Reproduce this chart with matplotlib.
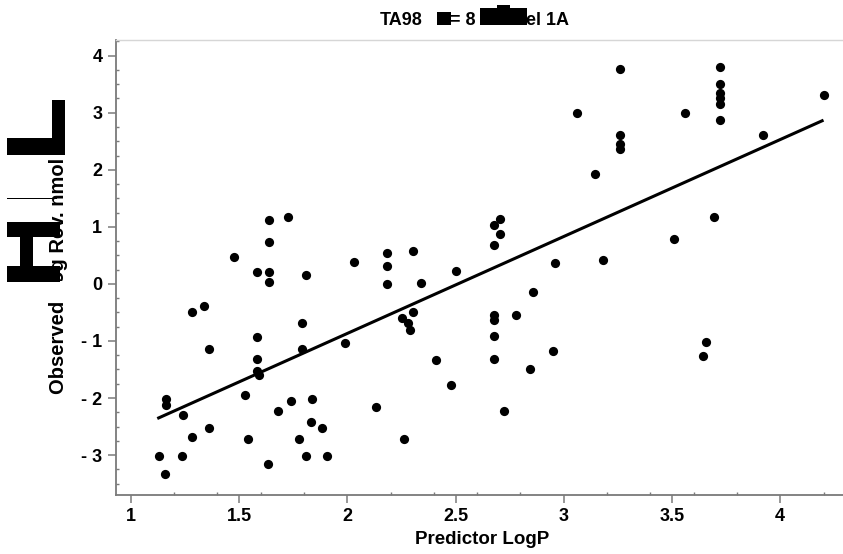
import matplotlib
matplotlib.use("Agg")
import matplotlib.pyplot as plt
from matplotlib.patches import Rectangle
from matplotlib.ticker import MultipleLocator, FuncFormatter

# ---------------- data ----------------
logp = [1.639, 1.476, 1.584, 1.639, 1.639, 1.811, 1.283, 1.340, 1.362, 1.584,
        1.789, 1.789, 1.989, 1.584, 1.584, 1.590, 1.163, 1.163, 1.242, 1.525,
        1.682, 1.739, 1.839, 1.831, 1.882, 1.283, 1.362, 1.542, 1.777, 1.128,
        1.234, 1.811, 1.904, 1.157, 1.635, 1.639, 1.727,
        2.704, 2.679, 2.704, 2.679, 2.032, 2.185, 2.185, 2.303, 2.185, 2.339,
        2.502, 2.960, 3.180, 2.858, 2.303, 2.253, 2.282, 2.290, 2.679, 2.679,
        2.780, 2.679, 2.679, 2.952, 2.410, 2.845, 2.481, 2.133, 2.723, 2.261,
        3.259, 3.059, 3.558, 3.723, 3.723, 3.723, 3.723, 3.723, 3.723, 4.200,
        3.259, 3.259, 3.259, 3.919, 3.145, 3.694, 3.507, 3.656, 3.645]
observed = [0.74, 0.48, 0.20, 0.20, 0.035, 0.15, -0.50, -0.39, -1.14, -0.93,
            -0.69, -1.14, -1.04, -1.31, -1.52, -1.60, -2.01, -2.12, -2.30, -1.95,
            -2.23, -2.06, -2.01, -2.42, -2.53, -2.69, -2.53, -2.71, -2.71, -3.02,
            -3.02, -3.02, -3.02, -3.33, -3.15, 1.12, 1.18,
            1.13, 1.04, 0.88, 0.69, 0.39, 0.55, 0.31, 0.58, -0.01, 0.02,
            0.23, 0.37, 0.42, -0.15, -0.50, -0.60, -0.69, -0.80, -0.55, -0.63,
            -0.55, -0.92, -1.31, -1.18, -1.34, -1.50, -1.77, -2.15, -2.23, -2.71,
            3.77, 2.99, 2.99, 3.80, 3.50, 3.34, 3.25, 3.15, 2.88, 3.31,
            2.61, 2.46, 2.36, 2.61, 1.93, 1.18, 0.79, -1.02, -1.26]
fit_x = [1.122, 4.20]
fit_y = [-2.36, 2.87]

x_ticks = [1, 1.5, 2, 2.5, 3, 3.5, 4]
y_ticks = [-3, -2, -1, 0, 1, 2, 3, 4]

title_parts = ["TA98", "= 8", "el 1A"]
x_label = "Predictor LogP"
y_label = "Observed Log Rev. nmol"

# ---------------- figure ----------------
W, H = 843, 554
fig = plt.figure(figsize=(W / 100, H / 100), dpi=100)
FONT = "Liberation Sans"


def fx(px):
    return px / W


def fy(py):
    return 1 - py / H


ax_l, ax_r, ax_t, ax_b = 115.5, 843, 40, 495
ax = fig.add_axes([fx(ax_l), fy(ax_b), fx(ax_r - ax_l), (ax_b - ax_t) / H])

ax.scatter(logp, observed, s=44, color="black", zorder=3, linewidths=0)
ax.plot(fit_x, fit_y, color="black", lw=2.2, zorder=2, solid_capstyle="butt")

ax.set_xlim(0.929, 4.29)
ax.set_ylim(-3.70, 4.275)

ax.xaxis.set_major_locator(plt.FixedLocator(x_ticks))
ax.yaxis.set_major_locator(plt.FixedLocator(y_ticks))
ax.xaxis.set_minor_locator(MultipleLocator(0.2))
ax.yaxis.set_minor_locator(MultipleLocator(0.25))


def xfmt(v, pos):
    return f"{v:g}"


def yfmt(v, pos):
    v = int(round(v))
    return f"- {abs(v)}" if v < 0 else f"{v}"


ax.xaxis.set_major_formatter(FuncFormatter(xfmt))
ax.yaxis.set_major_formatter(FuncFormatter(yfmt))

spine_c = "#7a7a7a"
for s in ["left", "bottom"]:
    ax.spines[s].set_color(spine_c)
    ax.spines[s].set_linewidth(1.3)
ax.spines["top"].set_color("#d6d6d6")
ax.spines["top"].set_linewidth(1.0)
ax.spines["right"].set_visible(False)

ax.tick_params(which="major", direction="out", length=6, width=1.1, color=spine_c,
               pad=3.5, labelsize=13)
ax.tick_params(which="minor", direction="in", length=2, width=1.0, color=spine_c)
ax.tick_params(top=False, right=False, which="both")
for lab in ax.get_xticklabels() + ax.get_yticklabels():
    lab.set_fontfamily(FONT)
    lab.set_fontweight("bold")

# axis labels
fig.text(fx(482), fy(540), x_label, ha="center", va="center", fontsize=13.5,
         fontweight="bold", family=FONT, zorder=3)
fig.text(fx(58), fy(276), y_label, ha="center", va="center", rotation=90,
         fontsize=14.5, fontweight="bold", family=FONT, zorder=3)

# title (pieces around the blacked-out parts)
for txt, xp in zip(title_parts, [380, 450, 526]):
    fig.text(fx(xp), fy(25), txt, ha="left", va="baseline", fontsize=13,
             fontweight="bold", family=FONT, zorder=3)


def box(x0, y0, x1, y1, color="black"):
    fig.patches.append(Rectangle((fx(x0), fy(y1)), fx(x1 - x0), (y1 - y0) / H,
                                 transform=fig.transFigure, facecolor=color,
                                 edgecolor="none", zorder=10))


# redaction blocks in title
box(437, 12, 451, 25)
box(480, 8, 527, 25)
box(497, 5, 510, 8)
# redaction blocks on the y label
box(44, 281, 68, 298.5, color="white")
box(7, 138, 65, 155)
box(52, 100, 65, 155)
box(7, 222, 60, 237)
box(7, 266, 60, 282)
box(20, 237, 33, 266)
box(7, 197.5, 57, 198.5)

fig.savefig("out.png", dpi=100)
